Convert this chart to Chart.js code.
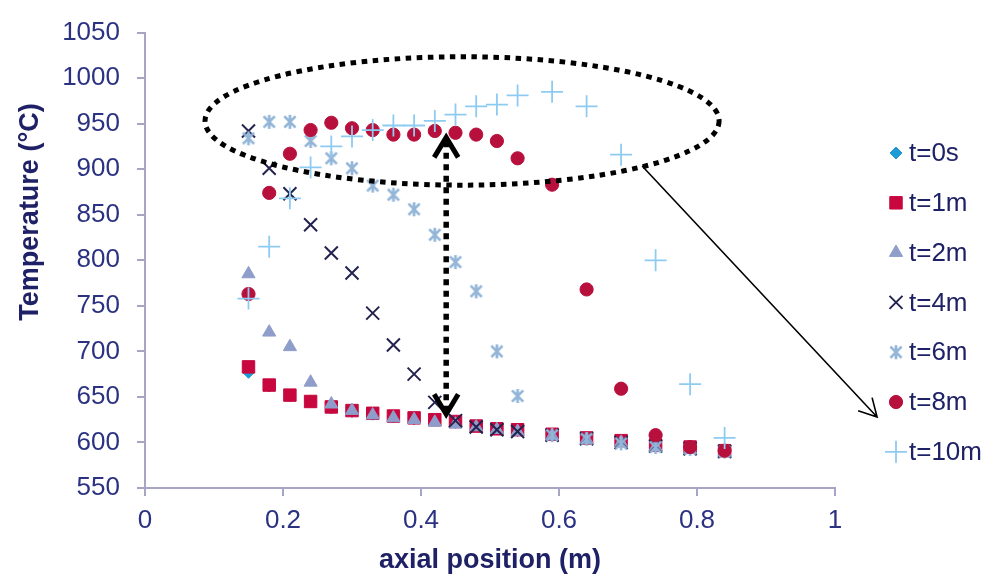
<!DOCTYPE html>
<html>
<head>
<meta charset="utf-8">
<title>Temperature profile</title>
<script src="https://cdn.jsdelivr.net/npm/chart.js@4/dist/chart.umd.min.js"></script>
<style>
  html, body { margin: 0; padding: 0; background: #fff; }
  #chart { display: block; }
</style>
</head>
<body>
<canvas id="chart" width="997" height="577"></canvas>
<script>
// axial positions of the thermocouples (m)
const positions = [0.15, 0.18, 0.21, 0.24, 0.27, 0.30, 0.33, 0.36, 0.39, 0.42,
                   0.45, 0.48, 0.51, 0.54, 0.59, 0.64, 0.69, 0.74, 0.79, 0.84];

// temperatures (°C) at each position, one list per time step
const temp0s  = [677, 662, 651, 645, 638, 634, 631, 628, 626, 624, 622, 618, 615, 613, 609, 605, 602, 597, 594, 590];
const temp1m  = [683, 663, 652, 645, 639, 635, 632, 629, 627, 625, 623, 618, 615, 614, 609, 605, 602, 597, 595, 591];
const temp2m  = [785, 721, 705, 666, 642, 635, 630, 627, 625, 622, 620, 617, 614, 612, 607, 603, 600, 595, 592, 589];
const temp4m  = [942, 901, 873, 839, 808, 786, 742, 707, 675, 644, 624, 617, 614, 612, 608, 604, 600, 596, 593, 590];
const temp6m  = [934, 952, 952, 931, 912, 901, 882, 872, 856, 828, 798, 766, 700, 651, 608, 604, 599, 595, 593, 590];
const temp8m  = [763, 874, 917, 943, 951, 945, 943, 938, 938, 942, 940, 938, 931, 912, 883, 768, 659, 608, 595, 591];
const temp10m = [758, 815, 868, 902, 925, 936, 943, 948, 948, 953, 960, 969, 971, 981, 985, 969, 916, 800, 664, 605];

const seriesNames = ['t=0s', 't=1m', 't=2m', 't=4m', 't=6m', 't=8m', 't=10m'];
const seriesTemps = [temp0s, temp1m, temp2m, temp4m, temp6m, temp8m, temp10m];

const xTicks = { min: 0, max: 1, step: 0.2 };
const yTicks = { min: 550, max: 1050, step: 50 };

const FONT = '"Liberation Sans", Arial, sans-serif';
const AXIS_COLOR = '#a7a5c5';
const TICK_TEXT = '#2b3282';
const TITLE_TEXT = '#1f2166';

// excel style asterisk: an x with a vertical bar through it
function asterisk(color) {
  const c = document.createElement('canvas');
  c.width = 20; c.height = 20;
  const g = c.getContext('2d');
  const m = 10, d = 5.6, v = 7;
  g.strokeStyle = color;
  g.lineWidth = 2.7;
  g.beginPath();
  g.moveTo(m - d, m - d); g.lineTo(m + d, m + d);
  g.moveTo(m + d, m - d); g.lineTo(m - d, m + d);
  g.moveTo(m, m - v); g.lineTo(m, m + v);
  g.stroke();
  return c;
}

const markers = [
  { pointStyle: 'rectRot',  radius: 6,   fill: '#1e9bd7', stroke: '#1e9bd7', width: 1 },
  { pointStyle: 'rect',     radius: 8.8, fill: '#c8073f', stroke: '#c8073f', width: 1 },
  { pointStyle: 'triangle', radius: 7.6, fill: '#8f9dca', stroke: '#8f9dca', width: 1 },
  { pointStyle: 'crossRot', radius: 9.2, fill: '#24234f', stroke: '#24234f', width: 2 },
  { pointStyle: asterisk('#92b5d8'), radius: 7, fill: '#92b5d8', stroke: '#92b5d8', width: 1 },
  { pointStyle: 'circle',   radius: 6.6, fill: '#b8103c', stroke: '#b8103c', width: 1 },
  { pointStyle: 'cross',    radius: 11,  fill: '#8ecbf1', stroke: '#8ecbf1', width: 1.8 }
];

const datasets = seriesNames.map(function(name, i) {
  const m = markers[i];
  return {
    label: name,
    data: positions.map(function(p, k) { return { x: p, y: seriesTemps[i][k] }; }),
    pointStyle: m.pointStyle,
    pointRadius: m.radius,
    backgroundColor: m.fill,
    borderColor: m.stroke,
    pointBorderWidth: m.width,
    showLine: false,
    order: seriesNames.length - i   // later time steps sit on top
  };
});

// dotted ellipse, dotted double arrow and the pointer line (in data units)
const ellipseMark = { cx: 0.4595, cy: 953, rx: 0.3725, ry: 70.5 };
const rangeArrow = { x: 0.4365, top: 935, bottom: 631 };
const pointerArrow = { x0: 0.7205, y0: 903.5, x1: 1.061, y1: 628 };

const annotations = {
  id: 'annotations',
  afterDatasetsDraw(chart) {
    const ctx = chart.ctx;
    const xs = chart.scales.x, ys = chart.scales.y;
    ctx.save();
    ctx.strokeStyle = '#000';

    // dotted ellipse round the hot zone
    const cx = xs.getPixelForValue(ellipseMark.cx);
    const cy = ys.getPixelForValue(ellipseMark.cy);
    const rx = xs.getPixelForValue(ellipseMark.cx + ellipseMark.rx) - cx;
    const ry = cy - ys.getPixelForValue(ellipseMark.cy + ellipseMark.ry);
    ctx.lineWidth = 5;
    ctx.setLineDash([5.5, 5.5]);
    ctx.beginPath();
    ctx.ellipse(cx, cy, rx, ry, 0, 0, Math.PI * 2);
    ctx.stroke();

    // dotted double headed arrow
    const ax = xs.getPixelForValue(rangeArrow.x);
    const aTop = ys.getPixelForValue(rangeArrow.top);
    const aBot = ys.getPixelForValue(rangeArrow.bottom);
    ctx.lineWidth = 5.5;
    ctx.setLineDash([6, 5.5]);
    ctx.beginPath();
    ctx.moveTo(ax, aTop + 4);
    ctx.lineTo(ax, aBot - 4);
    ctx.stroke();
    ctx.setLineDash([]);
    ctx.lineWidth = 5;
    ctx.lineJoin = 'miter';
    ctx.beginPath();
    ctx.moveTo(ax - 12, aTop + 20); ctx.lineTo(ax, aTop); ctx.lineTo(ax + 12, aTop + 20);
    ctx.moveTo(ax - 12, aBot - 20); ctx.lineTo(ax, aBot); ctx.lineTo(ax + 12, aBot - 20);
    ctx.stroke();

    // thin pointer towards the legend
    const px0 = xs.getPixelForValue(pointerArrow.x0), py0 = ys.getPixelForValue(pointerArrow.y0);
    const px1 = xs.getPixelForValue(pointerArrow.x1), py1 = ys.getPixelForValue(pointerArrow.y1);
    const ang = Math.atan2(py0 - py1, px0 - px1);
    const head = 20, spread = 0.5;
    ctx.lineWidth = 1.6;
    ctx.beginPath();
    ctx.moveTo(px0, py0); ctx.lineTo(px1, py1);
    ctx.moveTo(px1 + head * Math.cos(ang - spread), py1 + head * Math.sin(ang - spread));
    ctx.lineTo(px1, py1);
    ctx.lineTo(px1 + head * Math.cos(ang + spread), py1 + head * Math.sin(ang + spread));
    ctx.stroke();
    ctx.restore();
  },
  afterDraw(chart) {
    const ctx = chart.ctx;
    ctx.save();

    // y axis title
    ctx.fillStyle = TITLE_TEXT;
    ctx.font = 'bold 27px ' + FONT;
    ctx.textAlign = 'center';
    ctx.textBaseline = 'middle';
    ctx.translate(31, 212);
    ctx.rotate(-Math.PI / 2);
    ctx.fillText('Temperature (°C)', 0, 0);
    ctx.setTransform(1, 0, 0, 1, 0, 0);

    // legend on the right
    ctx.font = '26px ' + FONT;
    ctx.textAlign = 'left';
    seriesNames.forEach(function(name, i) {
      const m = markers[i];
      const ly = 153 + i * 49.8;
      ctx.fillStyle = m.fill;
      ctx.strokeStyle = m.stroke;
      ctx.lineWidth = m.width;
      Chart.helpers.drawPoint(ctx, {
        pointStyle: m.pointStyle, radius: m.radius, rotation: 0, borderWidth: m.width
      }, 896, ly);
      ctx.fillStyle = TITLE_TEXT;
      ctx.fillText(name, 909, ly + 1);
    });
    ctx.restore();
  }
};

new Chart(document.getElementById('chart'), {
  type: 'scatter',
  data: { datasets: datasets },
  options: {
    responsive: false,
    devicePixelRatio: 1,
    animation: false,
    events: [],
    layout: { padding: { top: 20, right: 162, bottom: 0, left: 0 } },
    plugins: {
      legend: { display: false },
      tooltip: { enabled: false }
    },
    scales: {
      x: {
        type: 'linear',
        min: xTicks.min,
        max: xTicks.max,
        afterFit: function(s) { s.height = 89; },
        ticks: {
          stepSize: xTicks.step,
          font: { family: FONT, size: 26 },
          color: TICK_TEXT,
          padding: 9,
          callback: function(v) { return String(Math.round(v * 10) / 10); }
        },
        border: { color: AXIS_COLOR, width: 2 },
        grid: { drawOnChartArea: false, drawTicks: true, tickLength: 8, color: AXIS_COLOR, lineWidth: 2 },
        title: {
          display: true,
          text: 'axial position (m)',
          color: TITLE_TEXT,
          font: { family: FONT, size: 27, weight: 'bold' },
          padding: { top: 0, bottom: 0 }
        }
      },
      y: {
        type: 'linear',
        min: yTicks.min,
        max: yTicks.max,
        afterFit: function(s) { s.width = 145; },
        ticks: {
          stepSize: yTicks.step,
          font: { family: FONT, size: 26 },
          color: TICK_TEXT,
          padding: 17,
          callback: function(v) { return String(v); }
        },
        border: { color: AXIS_COLOR, width: 2 },
        grid: { drawOnChartArea: false, drawTicks: true, tickLength: 8, color: AXIS_COLOR, lineWidth: 2 }
      }
    }
  },
  plugins: [annotations]
});
</script>
</body>
</html>
